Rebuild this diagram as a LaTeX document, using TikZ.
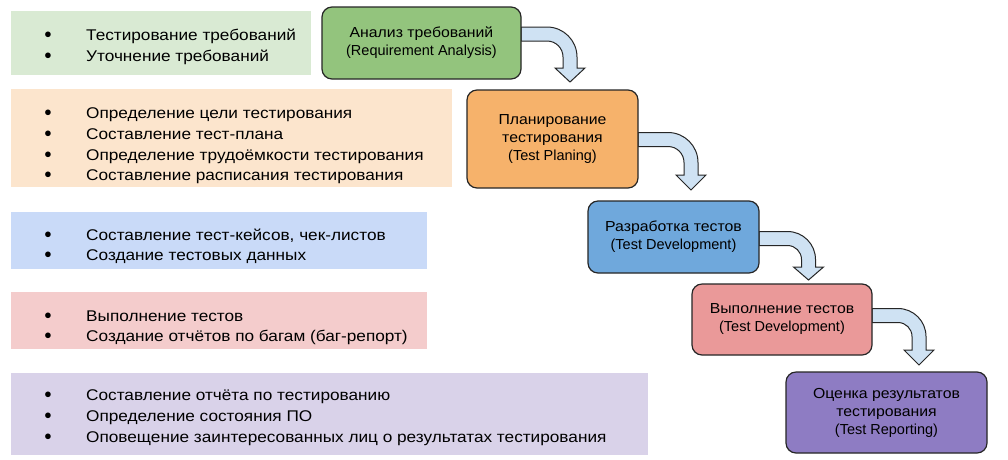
\documentclass[tikz,border=0pt]{standalone}
\usepackage{fontspec}
\setmainfont{Liberation Sans}
\newfontfamily\cyrL[FakeStretch=1.11]{Liberation Sans}
\newfontfamily\cyrR[FakeStretch=1.09]{Liberation Sans}
\definecolor{gL}{HTML}{D9EAD3}\definecolor{gR}{HTML}{93C47D}
\definecolor{oL}{HTML}{FCE5CD}\definecolor{oR}{HTML}{F6B26B}
\definecolor{bL}{HTML}{C9DAF8}\definecolor{bR}{HTML}{6FA8DC}
\definecolor{rL}{HTML}{F4CCCC}\definecolor{rR}{HTML}{EA9999}
\definecolor{pL}{HTML}{D9D2E9}\definecolor{pR}{HTML}{8E7CC3}
\definecolor{arrF}{HTML}{CFE2F3}
\definecolor{edge}{HTML}{262626}
\tikzset{
  leftbox/.style={draw=none, inner sep=0pt, anchor=north west},
  stagebox/.style={draw=edge, line width=1.2pt, rounded corners=10pt, inner sep=0pt,
    align=center, font=\fontsize{14.5}{18}\selectfont},
  itemtext/.style={anchor=base west, inner sep=0pt, font=\fontsize{15.5}{18}\cyrL},
  bul/.style={anchor=center, inner sep=0pt, font=\fontsize{13}{13}\selectfont},
  barrow/.style={draw=edge, line width=1pt, fill=arrF, line join=miter},
}
\newcommand\bentarr[6]{%
  \pgfmathsetmacro\cx{#3+7-#6}%
  \pgfmathsetmacro\cy{#2-7+#6}%
  \pgfmathsetmacro\rr{#6-14}%
  \pgfmathsetmacro\top{#2-7}\pgfmathsetmacro\bot{#2+7}%
  \pgfmathsetmacro\xo{#3+7}\pgfmathsetmacro\xi{#3-7}%
  \pgfmathsetmacro\hl{#3-15}\pgfmathsetmacro\hr{#3+15}%
  \pgfmathsetmacro\ka{\cx+0.5523*#6}\pgfmathsetmacro\kb{\cy-0.5523*#6}%
  \pgfmathsetmacro\kc{\cy-0.5523*\rr}\pgfmathsetmacro\kd{\cx+0.5523*\rr}%
  \draw[barrow] (#1,\top) -- (\cx,\top) .. controls (\ka,\top) and (\xo,\kb) .. (\xo,\cy)
    -- (\xo,#4) -- (\hr,#4) -- (#3,#5) -- (\hl,#4) -- (\xi,#4) -- (\xi,\cy)
    .. controls (\xi,\kc) and (\kd,\bot) .. (\cx,\bot) -- (#1,\bot) -- cycle;
}
\newcommand\bitem[3]{% name, y, text
  \node[bul] (#1b) at (48,#2) {●};
  \node[itemtext] (#1) at (86,#2+5.5) {#3};
}
\begin{document}
\begin{tikzpicture}[x=1pt,y=-1pt]
\useasboundingbox[fill=white] (0,0) rectangle (1008,459);
% left boxes
\node[leftbox, fill=gL, minimum width=300pt, minimum height=64pt] (L1) at (11,11) {};
\node[leftbox, fill=oL, minimum width=441pt, minimum height=98pt] (L2) at (11,89) {};
\node[leftbox, fill=bL, minimum width=416pt, minimum height=57pt] (L3) at (11,212) {};
\node[leftbox, fill=rL, minimum width=416pt, minimum height=57pt] (L4) at (11,292) {};
\node[leftbox, fill=pL, minimum width=637pt, minimum height=82pt] (L5) at (11,373) {};
% items
\bitem{a1}{35}{Тестирование требований}
\bitem{a2}{56}{Уточнение требований}
\bitem{b1}{113}{Определение цели тестирования}
\bitem{b2}{134}{Составление тест-плана}
\bitem{b3}{155}{Определение трудоёмкости тестирования}
\bitem{b4}{175}{Составление расписания тестирования}
\bitem{c1}{235}{Составление тест-кейсов, чек-листов}
\bitem{c2}{255}{Создание тестовых данных}
\bitem{d1}{316}{Выполнение тестов}
\bitem{d2}{336}{Создание отчётов по багам (баг-репорт)}
\bitem{e1}{395}{Составление отчёта по тестированию}
\bitem{e2}{416}{Определение состояния ПО}
\bitem{e3}{437}{Оповещение заинтересованных лиц о результатах тестирования}
% arrows
\bentarr{521}{34}{570}{68}{82}{30}
\bentarr{638}{139.5}{691}{175}{190}{30}
\bentarr{759}{238.5}{808.5}{267}{280}{28}
\bentarr{872}{315.5}{919}{350}{365}{28}
% stage boxes
\node[stagebox, fill=gR, minimum width=199pt, minimum height=72pt] (S1) at (421.5,43) {{\cyrR Анализ требований}\\(Requirement Analysis)};
\node[stagebox, fill=oR, minimum width=171pt, minimum height=98pt] (S2) at (552.5,139) {{\cyrR Планирование}\\{\cyrR тестирования}\\(Test Planing)};
\node[stagebox, fill=bR, minimum width=171pt, minimum height=72pt] (S3) at (673.5,237) {{\cyrR Разработка тестов}\\(Test Development)};
\node[stagebox, fill=rR, minimum width=180pt, minimum height=71pt] (S4) at (782,319.5) {{\cyrR Выполнение тестов}\\(Test Development)};
\node[stagebox, fill=pR, minimum width=201pt, minimum height=81pt] (S5) at (886.5,412.5) {{\cyrR Оценка результатов}\\{\cyrR тестирования}\\(Test Reporting)};
\end{tikzpicture}
\end{document}
